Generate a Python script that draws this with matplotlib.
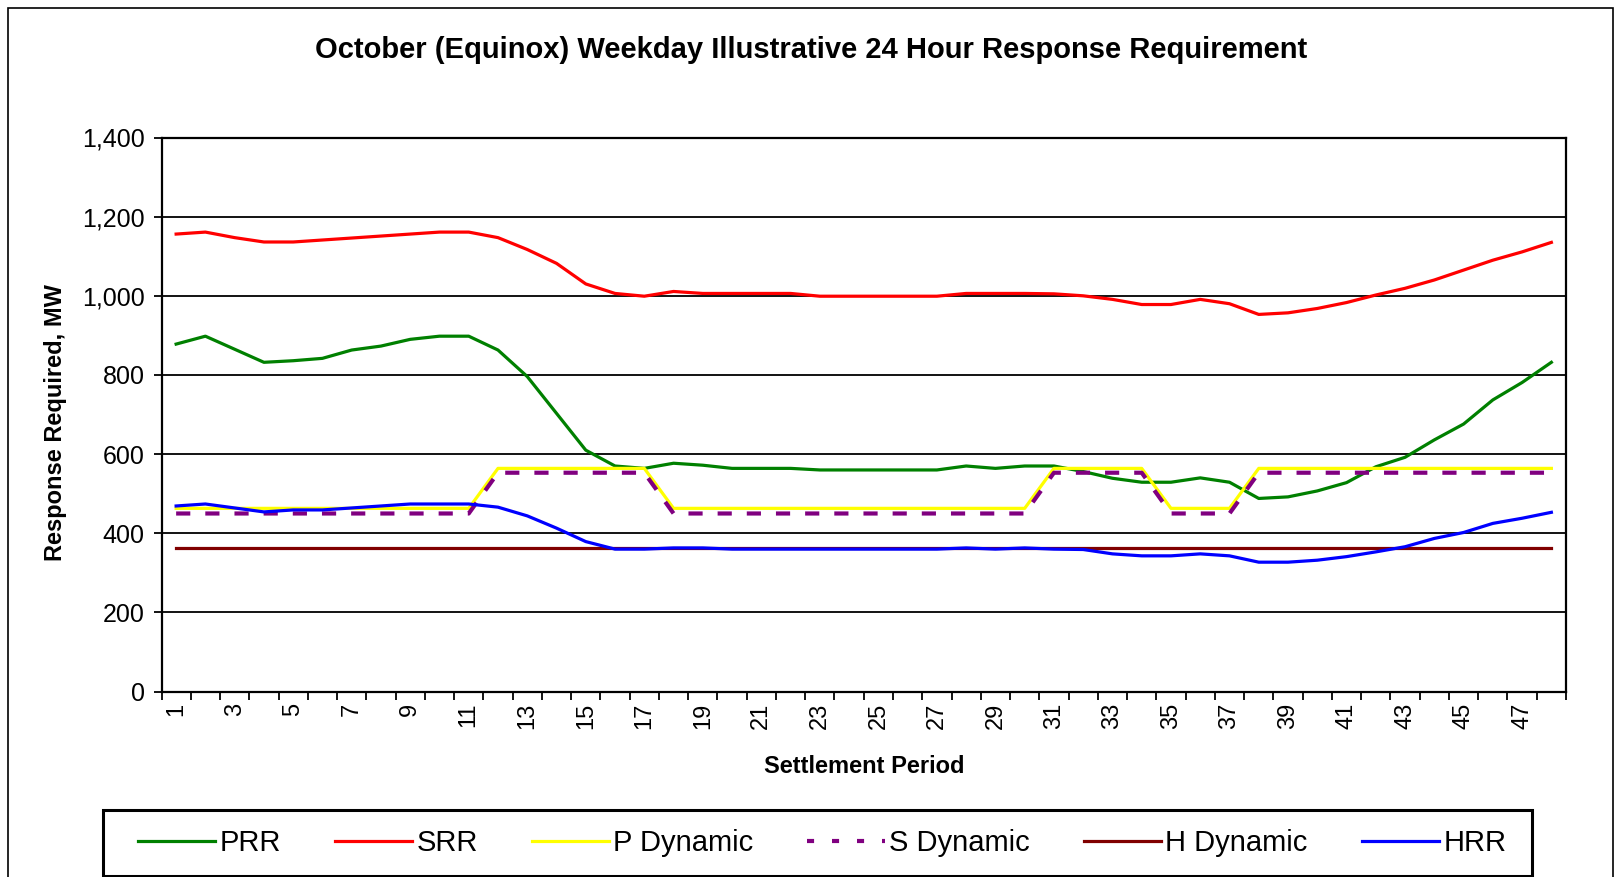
import numpy as np
import matplotlib
matplotlib.use("Agg")
import matplotlib.pyplot as plt
from matplotlib.patches import Rectangle
from matplotlib.lines import Line2D
from matplotlib.ticker import FuncFormatter

plt.rcParams['font.family'] = ['Liberation Sans', 'DejaVu Sans']

periods = list(range(1, 49))

prr = [878, 898, 865, 832, 836, 842, 863, 873, 890, 898, 898, 863,
       796, 703, 610, 570, 564, 577, 572, 564, 564, 564, 560, 560,
       560, 560, 560, 570, 564, 570, 570, 556, 539, 529, 529, 540,
       529, 488, 492, 507, 528, 568, 592, 636, 676, 737, 781, 832]

srr = [1156, 1161, 1147, 1136, 1136, 1141, 1146, 1151, 1156, 1161, 1161, 1147,
       1117, 1082, 1030, 1006, 999, 1011, 1006, 1006, 1006, 1006, 999, 999,
       999, 999, 999, 1006, 1006, 1006, 1005, 1000, 991, 978, 978, 991,
       980, 953, 957, 968, 983, 1002, 1019, 1040, 1065, 1090, 1111, 1135]

p_dyn = ([463] * 11 + [564] * 6 + [463] * 13 + [564] * 4
         + [463] * 3 + [564] * 11)
s_dyn = ([450] * 11 + [553] * 6 + [450] * 13 + [553] * 4
         + [450] * 3 + [553] * 11)
h_dyn = [363] * 48

hrr = [469, 474, 464, 454, 459, 459, 464, 469, 474, 474, 474, 466,
       444, 413, 379, 360, 360, 363, 363, 360, 360, 360, 360, 360,
       360, 360, 360, 363, 360, 363, 360, 359, 348, 343, 343, 348,
       343, 327, 327, 332, 341, 353, 366, 387, 402, 425, 438, 453]

W, H = 1621, 877
fig = plt.figure(figsize=(W / 100, H / 100), dpi=100)
ax = fig.add_axes([161.5 / W, 1 - 691.6 / H, (1566 - 161.5) / W, (691.6 - 137.5) / H])

lw = 2.3
ax.plot(periods, prr, color='#008000', lw=lw, label='PRR')
ax.plot(periods, srr, color='#FF0000', lw=lw, label='SRR')
ax.plot(periods, p_dyn, color='#FFFF00', lw=lw, label='P Dynamic')
ax.plot(periods, s_dyn, color='#800080', lw=3.0, dashes=(3.4, 3.6), label='S Dynamic')
ax.plot(periods, h_dyn, color='#800000', lw=lw, label='H Dynamic')
ax.plot(periods, hrr, color='#0000FF', lw=lw, label='HRR')

ax.set_xlim(0.5, 48.5)
ax.set_ylim(0, 1400)
ax.set_yticks(range(0, 1401, 200))
ax.yaxis.set_major_formatter(FuncFormatter(lambda v, p: '{:,.0f}'.format(v)))
ax.grid(axis='y', color='black', lw=1.3)
ax.set_axisbelow(True)

ax.set_xticks(range(1, 49, 2))
ax.set_xticklabels([str(i) for i in range(1, 49, 2)], rotation=90)
ax.set_xticks(np.arange(0.5, 49, 1), minor=True)
ax.tick_params(axis='x', which='major', length=0, pad=8, labelsize=17)
ax.tick_params(axis='x', which='minor', length=6, width=1.3, direction='out')
ax.tick_params(axis='y', length=6, width=1.3, direction='out', labelsize=18, pad=6)

for s in ax.spines.values():
    s.set_linewidth(1.6)
    s.set_color('black')

ax.set_xlabel('Settlement Period', fontsize=17, fontweight='bold', labelpad=19)
ax.set_ylabel('Response Required, MW', fontsize=17, fontweight='bold')
ax.yaxis.set_label_coords((67 - 161.5) / (1566 - 161.5), 0.485)

fig.text(811 / W, 1 - 50 / H,
         'October (Equinox) Weekday Illustrative 24 Hour Response Requirement',
         ha='center', va='center', fontsize=21, fontweight='bold')

# outer chart border
fig.patches.append(Rectangle((8 / W, -0.02), (1613 - 8) / W, 1.02 - 8 / H,
                             transform=fig.transFigure, fill=False,
                             edgecolor='black', lw=1.2))
# legend box
fig.patches.append(Rectangle((103 / W, 1 - 876 / H), (1532 - 103) / W, (876 - 810) / H,
                             transform=fig.transFigure, fill=False,
                             edgecolor='black', lw=2.2))

handles, labels = ax.get_legend_handles_labels()
# the legend key of S Dynamic is drawn with short square dots
handles[3] = Line2D([], [], color='#800080', lw=3.0, dashes=(1.7, 4.3))
fig.legend(handles, labels, loc='center', bbox_to_anchor=(822 / W, 1 - 843 / H),
           ncol=6, frameon=False, fontsize=21, handlelength=2.65,
           handletextpad=0.15, columnspacing=1.85)

fig.savefig('out.png', dpi=100)
